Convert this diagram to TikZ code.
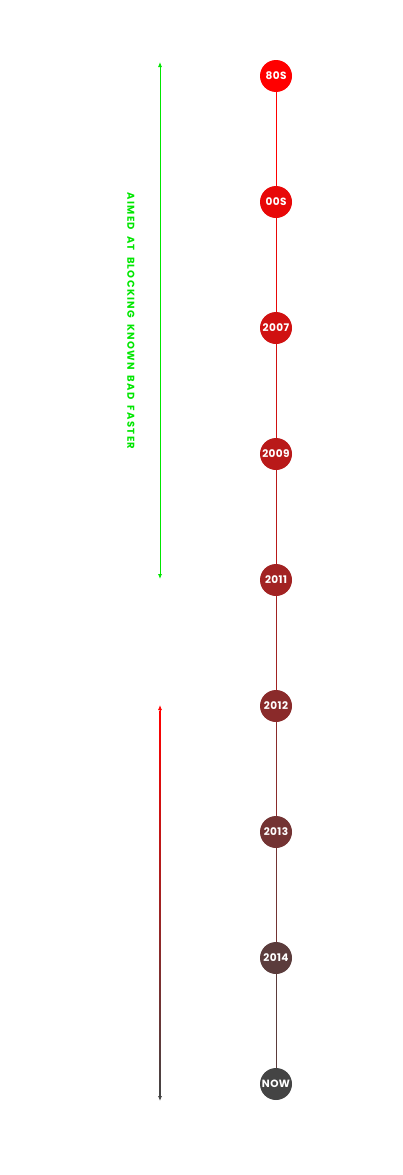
\documentclass[tikz,border=0pt]{standalone}
\usepackage{fontspec}
\setmainfont{Poppins}
\newfontfamily\aimfont[WordSpace=1.8, LetterSpace=13]{Poppins}
\usetikzlibrary{arrows.meta, positioning}
\definecolor{aimgreen}{RGB}{0,230,0}
\definecolor{startred}{RGB}{255,0,0}
\definecolor{nowgray}{RGB}{68,68,68}
\tikzset{spantip/.tip={Latex[length=5pt, width=4pt]}}

\begin{document}
\begin{tikzpicture}[x=1pt, y=-1pt,
    year/.style={circle, minimum size=32pt, inner sep=0pt, text=white,
      font=\bfseries\fontsize{10.5}{10.5}\selectfont\addfontfeature{LetterSpace=4}}]
  \useasboundingbox (0,0) rectangle (403,1175);
  % timeline dots
  \foreach \lbl [count=\i from 0] in {80S,00S,2007,2009,2011,2012,2013,2014,NOW} {
    \pgfmathsetmacro\mix{100-12.5*\i}
    \node[year, fill=startred!\mix!nowgray] (y\i) at (276,76+126*\i) {\lbl};
  }
  \foreach \i in {0,...,7} {
    \pgfmathtruncatemacro\j{\i+1}
    \pgfmathsetmacro\mix{100-12.5*\i}
    \draw[startred!\mix!nowgray, line width=0.8pt] (y\i) -- (y\j);
  }
  % green span
  \coordinate (gtop) at (160,62);
  \coordinate (gbot) at (160,579);
  \draw[aimgreen, line width=0.8pt, spantip-spantip] (gtop) -- (gbot);
  \node[rotate=-90, text=aimgreen, font=\aimfont\bfseries\fontsize{10}{10}\selectfont]
    (aim) at (131,321) {AIMED AT BLOCKING KNOWN BAD FASTER};
  % red to gray span
  \coordinate (rtop) at (160,705);
  \coordinate (rbot) at (160,1101);
  \shade[top color=startred, bottom color=nowgray] (159.6,710) rectangle (160.4,1096);
  \draw[startred, line width=0.8pt, -spantip] (160,712) -- (rtop);
  \draw[nowgray, line width=0.8pt, -spantip] (160,1094) -- (rbot);
\end{tikzpicture}
\end{document}
